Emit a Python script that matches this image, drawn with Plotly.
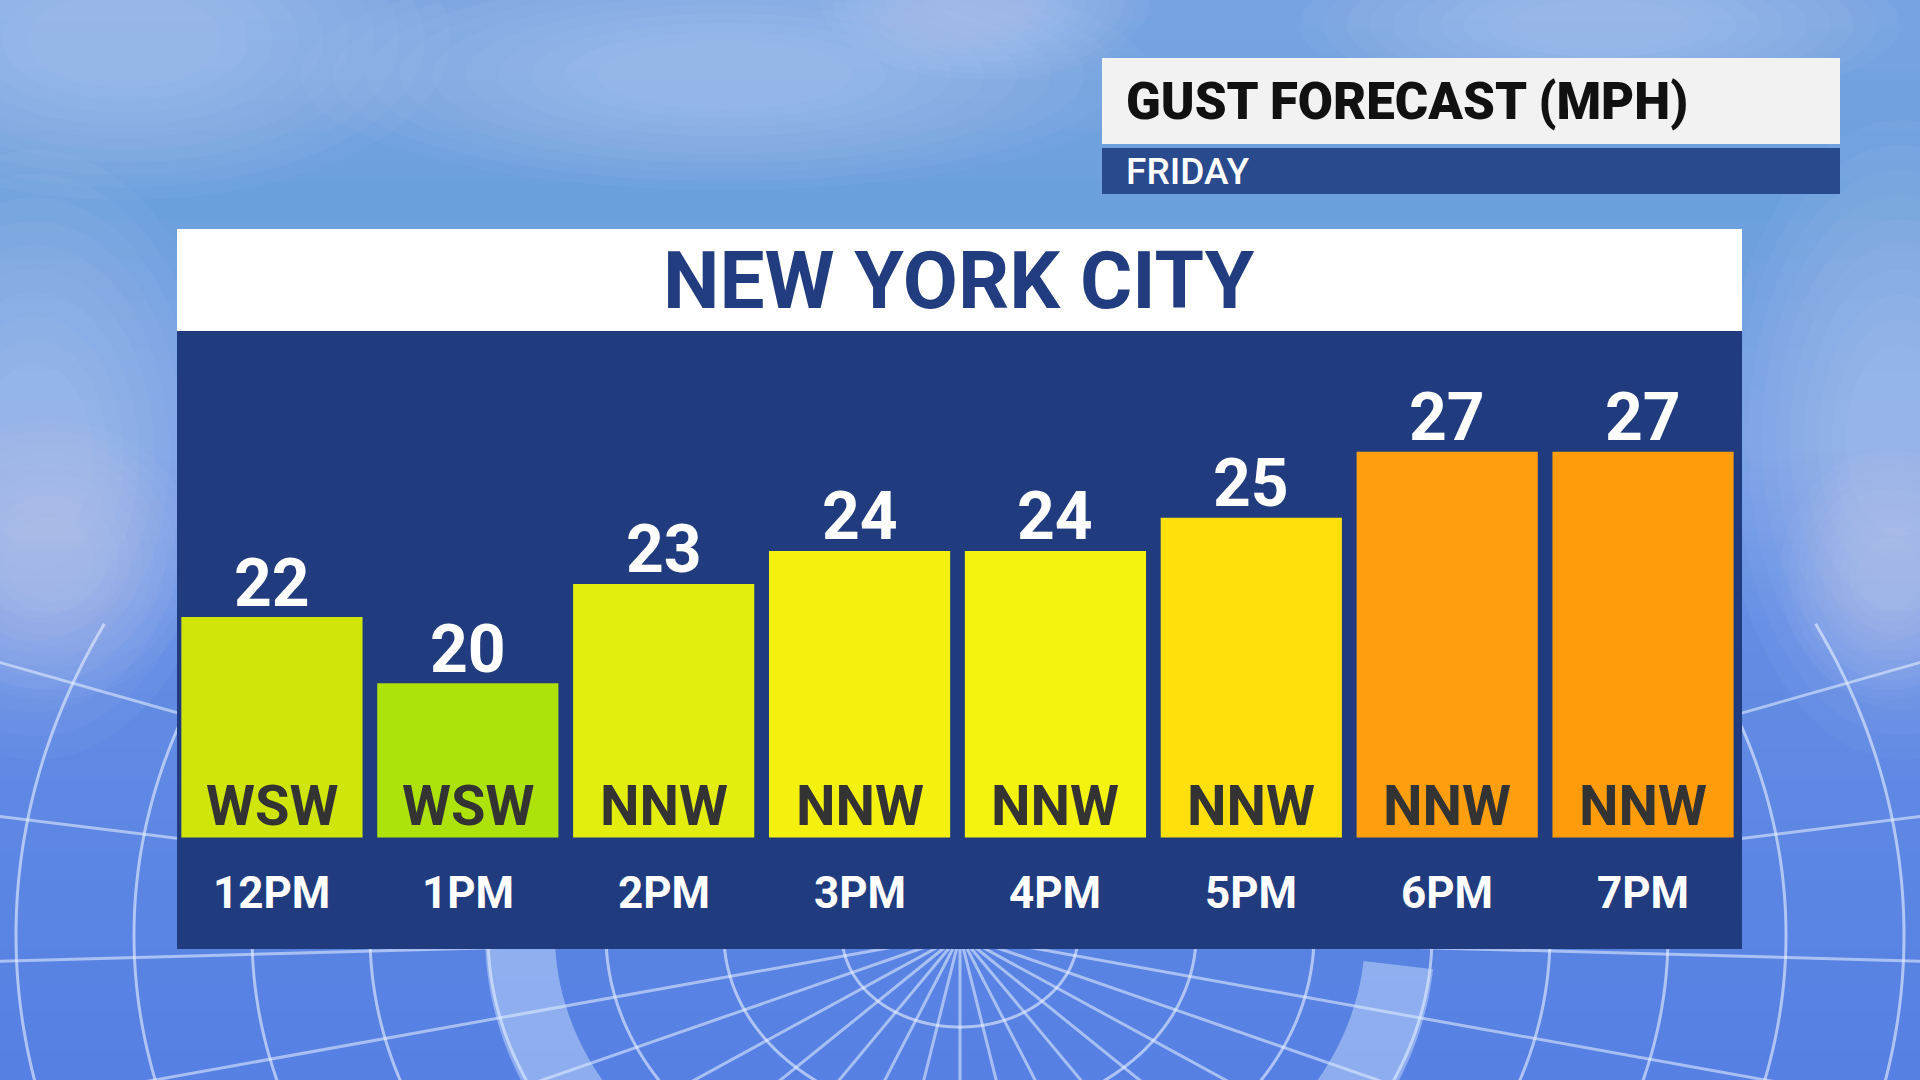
import numpy as np
import plotly.graph_objects as go

# ---------------- data ----------------
hours = ["12PM", "1PM", "2PM", "3PM", "4PM", "5PM", "6PM", "7PM"]
gusts = [22, 20, 23, 24, 24, 25, 27, 27]
directions = ["WSW", "WSW", "NNW", "NNW", "NNW", "NNW", "NNW", "NNW"]
bar_colors = ["#d0e60a", "#ade20a", "#e3ee0e", "#f5f10e", "#f4f20f", "#ffe00c", "#ff9e0e", "#fe9c0c"]

title_text = "NEW YORK CITY"
header_text = "GUST FORECAST (MPH)"
sub_text = "FRIDAY"

W, H = 1920, 1080
NAVY = "#203c7f"
FONT = "Roboto"


def px(x):
    return x / W


def py(y):
    return 1 - y / H


shapes = []

# ---- sky gradient background ----
stops = [(0, (120, 165, 225)), (200, (108, 160, 220)), (450, (118, 160, 228)),
         (620, (100, 142, 228)), (1080, (86, 128, 227))]
step = 10
for y in range(0, H, step):
    yc = y + step / 2
    for i in range(len(stops) - 1):
        if stops[i][0] <= yc <= stops[i + 1][0]:
            t = (yc - stops[i][0]) / (stops[i + 1][0] - stops[i][0])
            c = [int(stops[i][1][k] + t * (stops[i + 1][1][k] - stops[i][1][k])) for k in range(3)]
            break
    shapes.append(dict(type="rect", xref="paper", yref="paper", x0=0, x1=1,
                       y0=py(y + step + 1), y1=py(y), fillcolor="rgb(%d,%d,%d)" % tuple(c),
                       line=dict(width=0), layer="below"))

# ---- soft clouds (layered translucent ellipses) ----
clouds = [(-200, -120, 450, 200), (300, -40, 1150, 190), (820, -80, 1150, 80),
          (-160, 150, 230, 760), (1720, 120, 2080, 760), (1300, -60, 1900, 110),
          (-100, 420, 200, 700), (1780, 450, 2000, 700)]
for x0, y0, x1, y1 in clouds:
    cxm, cym = (x0 + x1) / 2, (y0 + y1) / 2
    hw, hh = (x1 - x0) / 2, (y1 - y0) / 2
    for s in np.linspace(1.0, 0.3, 10):
        shapes.append(dict(type="circle", xref="paper", yref="paper",
                           x0=px(cxm - hw * s), x1=px(cxm + hw * s),
                           y0=py(cym + hh * s), y1=py(cym - hh * s),
                           fillcolor="rgba(225,232,255,0.04)", line=dict(width=0), layer="below"))

# ---- radar grid ----
cx, cy = 960, 935
ymin_grid = 620
for k in range(1, 13):
    rx = 118 * k
    ry = rx * 0.78
    th = np.linspace(0, 2 * np.pi, 721)
    xs = cx + rx * np.cos(th)
    ys = cy + ry * np.sin(th)
    mask = ys > ymin_grid
    if not mask.any():
        continue
    pts = [(x, y) for x, y, m in zip(xs, ys, mask) if m]
    ang = [((np.arctan2(p[1] - cy, p[0] - cx)) + 0.6) % (2 * np.pi) for p in pts]
    pts = [p for _, p in sorted(zip(ang, pts))]
    path = "M " + " L ".join("%.5f,%.5f" % (px(x), py(y)) for x, y in pts)
    shapes.append(dict(type="path", xref="paper", yref="paper", path=path,
                       line=dict(color="rgba(235,242,255,0.6)", width=3), layer="below"))

for a in range(-20, 201, 11):
    t = np.deg2rad(a)
    L = 1500
    x1 = cx + L * np.cos(t)
    y1 = cy + L * np.sin(t) * 0.78
    shapes.append(dict(type="line", xref="paper", yref="paper", x0=px(cx), y0=py(cy),
                       x1=px(x1), y1=py(y1), line=dict(color="rgba(235,242,255,0.55)", width=3),
                       layer="below"))

# light "C" band
th = np.linspace(np.deg2rad(5), np.deg2rad(185), 200)
band = [(cx + 440 * np.cos(t), cy + 345 * np.sin(t)) for t in th]
shapes.append(dict(type="path", xref="paper", yref="paper",
                   path="M " + " L ".join("%.5f,%.5f" % (px(x), py(y)) for x, y in band),
                   line=dict(color="rgba(220,235,255,0.42)", width=70), layer="below"))

# ---- panels ----
shapes.append(dict(type="rect", xref="paper", yref="paper", x0=px(177), x1=px(1742),
                   y0=py(949), y1=py(331), fillcolor=NAVY, line=dict(width=0), layer="below"))
shapes.append(dict(type="rect", xref="paper", yref="paper", x0=px(177), x1=px(1742),
                   y0=py(331), y1=py(229), fillcolor="#ffffff", line=dict(width=0), layer="below"))
shapes.append(dict(type="rect", xref="paper", yref="paper", x0=px(1102), x1=px(1840),
                   y0=py(144), y1=py(58), fillcolor="#f2f2f2", line=dict(width=0), layer="below"))
shapes.append(dict(type="rect", xref="paper", yref="paper", x0=px(1102), x1=px(1840),
                   y0=py(194), y1=py(148), fillcolor="#2a4a8e", line=dict(width=0), layer="below"))

fig = go.Figure()
fig.add_trace(go.Bar(x=hours, y=gusts, marker=dict(color=bar_colors, line=dict(width=0)),
                     hoverinfo="skip", showlegend=False))

annotations = []
for h, g, d in zip(hours, gusts, directions):
    annotations.append(dict(x=h, y=g, xref="x", yref="y", text=str(g), showarrow=False,
                            yanchor="middle", yshift=34,
                            font=dict(family=FONT, size=66, color="white", weight="bold")))
    annotations.append(dict(x=h, y=py(806), xref="x", yref="paper", text=d, showarrow=False,
                            yanchor="middle",
                            font=dict(family=FONT, size=56, color="#333333", weight="bold")))
    annotations.append(dict(x=h, y=py(893), xref="x", yref="paper", text=h, showarrow=False,
                            yanchor="middle",
                            font=dict(family=FONT, size=44, color="white", weight="bold")))

annotations.append(dict(x=px(959), y=py(281), xref="paper", yref="paper", text=title_text,
                        showarrow=False, xanchor="center", yanchor="middle",
                        font=dict(family=FONT, size=80, color="#213d80", weight="bold")))
annotations.append(dict(x=px(1124), y=py(101), xref="paper", yref="paper", text=header_text,
                        showarrow=False, xanchor="left", yanchor="middle",
                        font=dict(family=FONT, size=51, color="#111111", weight=900)))
annotations.append(dict(x=px(1124), y=py(171), xref="paper", yref="paper", text=sub_text,
                        showarrow=False, xanchor="left", yanchor="middle",
                        font=dict(family=FONT, size=37, color="white", weight=500)))

fig.update_layout(
    width=W, height=H,
    margin=dict(l=0, r=0, t=0, b=0),
    paper_bgcolor="#6a9fdc", plot_bgcolor="rgba(0,0,0,0)",
    bargap=0.075,
    xaxis=dict(domain=[px(174), px(1741)], range=[-0.5, 7.5], showticklabels=False,
               showgrid=False, zeroline=False, showline=False, ticks="", fixedrange=True),
    yaxis=dict(domain=[py(837.6), py(331)], range=[15.33, 30.65], showticklabels=False,
               showgrid=False, zeroline=False, showline=False, ticks="", fixedrange=True),
    shapes=shapes, annotations=annotations,
)

fig.write_html("out.html", config={"displayModeBar": False},
               post_script="document.body.style.margin='0';document.body.style.overflow='hidden';")
